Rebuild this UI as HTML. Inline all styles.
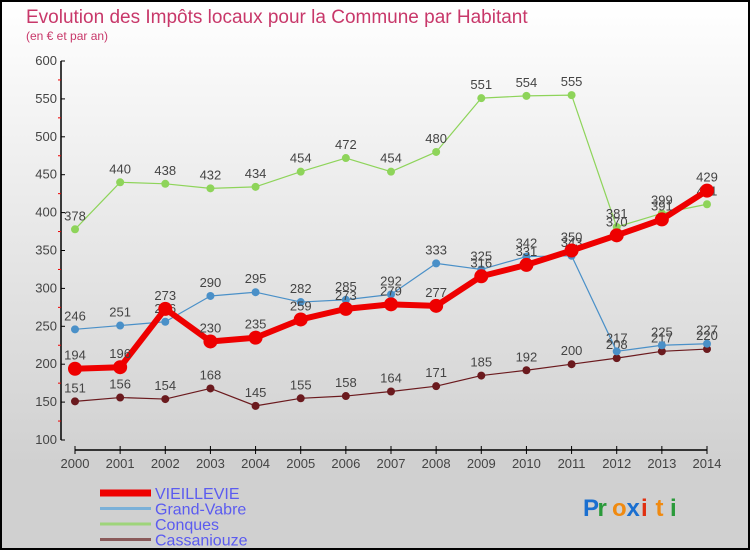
<!DOCTYPE html>
<html><head><meta charset="utf-8"><style>
body{margin:0}
#c{width:750px;height:550px;position:relative;box-sizing:border-box;border:2px solid #000;background:linear-gradient(#ffffff,#d0d0d0 85%,#d0d0d0);font-family:"Liberation Sans","DejaVu Sans",sans-serif;overflow:hidden}
</style></head><body>
<div id="c">
<svg id="s" width="746" height="546" style="position:absolute;left:0;top:0"></svg>
</div>
<script>
const years=[2000,2001,2002,2003,2004,2005,2006,2007,2008,2009,2010,2011,2012,2013,2014];
const vieillevie=[194,196,273,230,235,259,273,279,277,316,331,350,370,391,429];
const grandVabre=[246,251,256,290,295,282,285,292,333,325,342,343,217,225,227];
const conques=[378,440,438,432,434,454,472,454,480,551,554,555,381,399,411];
const cassaniouze=[151,156,154,168,145,155,158,164,171,185,192,200,208,217,220];
const yTicks=[100,150,200,250,300,350,400,450,500,550,600];
const names=["VIEILLEVIE","Grand-Vabre","Conques","Cassaniouze"];
const NS="http://www.w3.org/2000/svg";
const s=document.getElementById('s');
const O=-2;
function X(i){return 75+i*(707-75)/14+O}
function Y(v){return 440-(v-100)*0.758+O}
function el(t,a,txt,p){const e=document.createElementNS(NS,t);for(const k in a)e.setAttribute(k,a[k]);if(txt!=null)e.textContent=txt;(p||s).appendChild(e);return e}
const tt=el('text',{x:26+O,y:23+O,fill:'#c8386a','font-size':19},'Evolution des Impôts locaux pour la Commune par Habitant');

const st=el('text',{x:26+O,y:40+O,fill:'#c8386a','font-size':12},'(en € et par an)');

const ax=el('g',{});
el('line',{x1:61+O,y1:Y(600),x2:61+O,y2:Y(100),stroke:'#000','stroke-width':1.5},null,ax);
yTicks.forEach(v=>{el('line',{x1:61+O,y1:Y(v),x2:65+O,y2:Y(v),stroke:'#000'},null,ax);
 el('text',{x:57+O,y:Y(v)+4,'text-anchor':'end','font-size':13,fill:'#444'},v,ax);
 if(v<600)el('line',{x1:58+O,y1:Y(v+25),x2:61+O,y2:Y(v+25),stroke:'#e00'},null,ax);});
const xa=el('g',{});
el('line',{x1:X(0),y1:450+O,x2:X(14),y2:450+O,stroke:'#000','stroke-width':1.5},null,xa);
years.forEach((y,i)=>{el('line',{x1:X(i),y1:446+O,x2:X(i),y2:454+O,stroke:'#000'},null,xa);
 el('text',{x:X(i),y:468+O,'text-anchor':'middle','font-size':13,fill:'#444'},y,xa);});
function series(data,color,w,r,name){
 const g=el('g',{});
 el('polyline',{points:data.map((v,i)=>X(i)+','+Y(v)).join(' '),fill:'none',stroke:color,'stroke-width':w,'stroke-linejoin':'round'},null,g);
 data.forEach((v,i)=>{const c=el('circle',{cx:X(i),cy:Y(v),r:r,fill:color},null,g);
  
  el('text',{x:X(i),y:Y(v)-9,'text-anchor':'middle','font-size':13,fill:'#444'},v,g);});
}
series(cassaniouze,'#6b1a1e',1.2,4,'series-cassaniouze');
series(conques,'#8ed45a',1.2,4,'series-conques');
series(grandVabre,'#4a90c8',1.2,4,'series-grand-vabre');
series(vieillevie,'#ee0000',6,7,'series-vieillevie');
const cols=['#ee0000','#7ab0d8','#9ed47a','#8a5a5a'];const ws=[7,3,3,3];
names.forEach((n,i)=>{const g=el('g',{});
 const y=493+i*15.5+O;
 el('line',{x1:100+O,y1:y,x2:151+O,y2:y,stroke:cols[i],'stroke-width':ws[i]},null,g);
 el('text',{x:155+O,y:y+6,'font-size':16,fill:'#5b5bf0'},n,g);});
const lg=el('g',{});
const lc=['#1a6fd0','#2a9a3a','#f08a10','#1a6fd0','#e03010','#f08a10','#2a9a3a'];
'Proxiti'.split('').forEach((ch,i)=>el('text',{x:583+i*14.5+O,y:516+O,'font-size':24,'font-weight':'bold',fill:lc[i]},ch,lg));
</script>
</body></html>
